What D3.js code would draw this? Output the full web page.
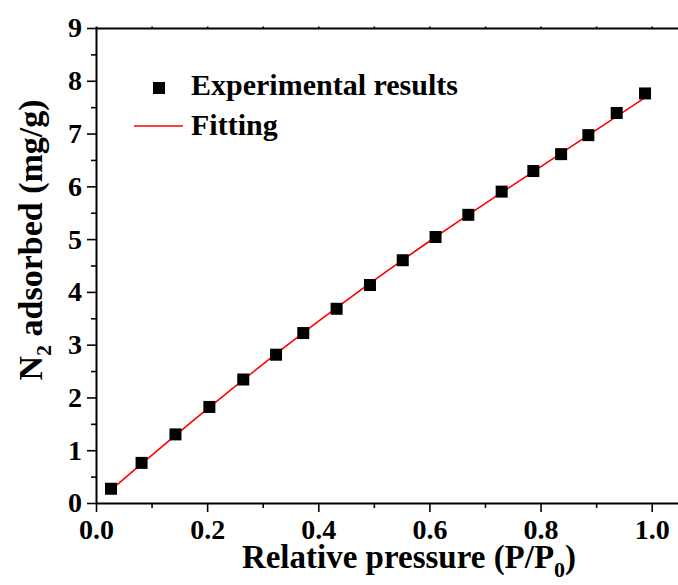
<!DOCTYPE html>
<html>
<head>
<meta charset="utf-8">
<script src="https://cdn.jsdelivr.net/npm/d3@7"></script>
<style>
	body { margin: 0; background: #fff; }
	.chart { width: 678px; height: 585px; }
	text { font-family: "Liberation Serif", "Times New Roman", serif; font-weight: bold; fill: #000; }
</style>
</head>
<body>
<div class="chart"></div>
<script>
const pressure = [0.027, 0.082, 0.143, 0.204, 0.265, 0.324, 0.373, 0.433, 0.493, 0.552, 0.611, 0.670, 0.730, 0.787, 0.837, 0.886, 0.937, 0.988];
const adsorbed = [0.27, 0.76, 1.30, 1.82, 2.34, 2.81, 3.22, 3.68, 4.13, 4.60, 5.04, 5.46, 5.90, 6.29, 6.61, 6.97, 7.39, 7.76];

// fitted curve, read at a few points along the red line
const fitPressure = [0.027, 0.2, 0.4, 0.6, 0.8, 0.988];
const fitAdsorbed = [0.25, 1.78, 3.44, 4.96, 6.37, 7.68];

const xTicks = [0, 0.2, 0.4, 0.6, 0.8, 1.0];
const yTicks = [0, 1, 2, 3, 4, 5, 6, 7, 8, 9];

const width = d3.select('.chart').node().clientWidth;
const height = d3.select('.chart').node().clientHeight;

let svg = d3.select('.chart')
	.append('svg')
	.attr('width', width)
	.attr('height', height);

const plotLeft = 96, plotTop = 28, plotBottom = 503;

const x = d3.scaleLinear().domain([0, 1.05]).range([plotLeft, plotLeft + 1.05 * 555.7]);
const y = d3.scaleLinear().domain([0, 9]).range([plotBottom, plotTop]);

// minor ticks
svg.append('g')
	.attr('transform', 'translate(0,' + plotBottom + ')')
	.call(d3.axisBottom(x).tickValues(d3.range(0.1, 1.05, 0.2)).tickSize(5).tickFormat(''))
	.call(g => g.select('.domain').remove());
svg.append('g')
	.attr('transform', 'translate(' + plotLeft + ',0)')
	.call(d3.axisLeft(y).tickValues(d3.range(0.5, 9, 1)).tickSize(5).tickFormat(''))
	.call(g => g.select('.domain').remove());
svg.append('g')
	.attr('transform', 'translate(0,' + plotTop + ')')
	.call(d3.axisTop(x).tickValues(d3.range(0.1, 1.05, 0.1)).tickSize(1.5).tickFormat(''))
	.call(g => g.select('.domain').attr('stroke-width', 1.6));

// main axes
let xAxis = svg.append('g')
	.attr('transform', 'translate(0,' + plotBottom + ')')
	.call(d3.axisBottom(x).tickValues(xTicks).tickSize(9).tickSizeOuter(0).tickPadding(7).tickFormat(d3.format('.1f')));
let yAxis = svg.append('g')
	.attr('transform', 'translate(' + plotLeft + ',0)')
	.call(d3.axisLeft(y).tickValues(yTicks).tickSize(9).tickSizeOuter(0).tickPadding(5).tickFormat(d3.format('d')));

svg.selectAll('.domain').attr('stroke-width', 2);
svg.selectAll('.tick line').attr('stroke-width', 1.6);
svg.selectAll('.tick text').style('font-size', '28px').style('font-family', '"Liberation Serif", serif').style('font-weight', 'bold');

// fitting line
const fit = fitPressure.map((p, i) => [p, fitAdsorbed[i]]);
svg.append('path')
	.datum(fit)
	.attr('fill', 'none')
	.attr('stroke', '#ff0000')
	.attr('stroke-width', 1.6)
	.attr('d', d3.line().x(d => x(d[0])).y(d => y(d[1])).curve(d3.curveMonotoneX));

// experimental squares
svg.selectAll('rect.pt')
	.data(pressure)
	.enter()
	.append('rect')
	.attr('class', 'pt')
	.attr('x', d => x(d) - 6)
	.attr('y', (d, i) => y(adsorbed[i]) - 6)
	.attr('width', 12)
	.attr('height', 12)
	.attr('fill', '#000');

// legend
svg.append('rect')
	.attr('x', 153).attr('y', 82).attr('width', 12).attr('height', 12)
	.attr('fill', '#000');
svg.append('text')
	.attr('x', 191).attr('y', 95)
	.style('font-size', '30px')
	.text('Experimental results');
svg.append('line')
	.attr('x1', 134).attr('x2', 183).attr('y1', 126).attr('y2', 126)
	.attr('stroke', '#ff0000').attr('stroke-width', 1.6);
svg.append('text')
	.attr('x', 191).attr('y', 135)
	.style('font-size', '30px')
	.text('Fitting');

// axis titles
let xt = svg.append('text')
	.attr('x', 409).attr('y', 568)
	.attr('text-anchor', 'middle')
	.style('font-size', '33px');
xt.append('tspan').text('Relative pressure (P/P');
xt.append('tspan').attr('dy', 9).style('font-size', '22px').text('0');
xt.append('tspan').attr('dy', -9).text(')');

let yt = svg.append('text')
	.attr('transform', 'translate(42,240) rotate(-90)')
	.attr('text-anchor', 'middle')
	.style('font-size', '34px');
yt.append('tspan').text('N');
yt.append('tspan').attr('dy', 9).style('font-size', '22px').text('2');
yt.append('tspan').attr('dy', -9).text(' adsorbed (mg/g)');
</script>
</body>
</html>
